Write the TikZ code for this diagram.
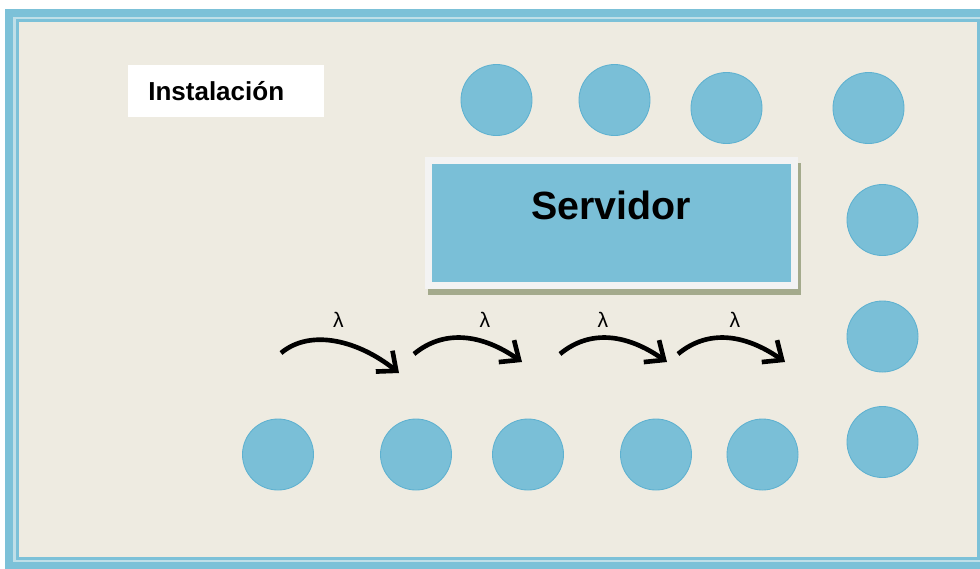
\documentclass[tikz,border=0pt]{standalone}
\usepackage{fontspec}
\setmainfont{Liberation Sans}
\usetikzlibrary{positioning}
\usetikzlibrary{arrows.meta}

\definecolor{framebg}{HTML}{EEEBE1}
\definecolor{frameblue}{HTML}{7CC1D8}
\definecolor{framelight}{HTML}{BFDFE8}
\definecolor{clientblue}{HTML}{7ABFD7}
\definecolor{clientedge}{HTML}{5EB1D0}
\definecolor{boxwhite}{HTML}{F3F3F3}
\definecolor{shadowgray}{HTML}{A4AA8C}

\pgfdeclarelayer{bg}
\pgfsetlayers{bg,main}

\begin{document}
\begin{tikzpicture}[x=0.025cm,y=-0.025cm,
    client/.style={circle,fill=clientblue,draw=clientedge,line width=0.6pt,minimum size=1.775cm,inner sep=0pt},
    flow/.style={line width=3.3pt,-{Straight Barb[length=11pt,width=19pt]}},
    rate/.style={font=\fontsize{15}{17}\selectfont,inner sep=0pt}]
        \useasboundingbox (0,0) rectangle (980,568);

        % marco
        \begin{pgfonlayer}{bg}
            \fill[framebg] (9,13) rectangle (987,566);
        \end{pgfonlayer}
        \draw[framelight,line width=2.4pt] (14.6,18) rectangle (982,561);
        \draw[frameblue,line width=5.7pt] (9,13) rectangle (987,566);
        \draw[frameblue,line width=1.8pt] (17.3,20.7) rectangle (978.7,558.5);

        \node[fill=white,anchor=west,minimum height=1.3cm,text width=3.9cm,inner xsep=0.5cm,align=left,
              font=\bfseries\fontsize{18.5}{22}\selectfont] (instalacion) at (128,91) {Instalación};

        \node[fill=clientblue,draw=boxwhite,line width=5pt,minimum width=9.15cm,minimum height=3.125cm,inner sep=0pt] (servidor) at (611.5,223) {};
        \begin{pgfonlayer}{bg}
            \fill[shadowgray] ([shift={(3,6)}]servidor.south west) rectangle ([shift={(3,6)}]servidor.north east);
        \end{pgfonlayer}
        \node[font=\bfseries\fontsize{28}{32}\selectfont] (servidortxt) at (611,205) {Servidor};

        % clientes
        \foreach \n/\x/\y in {1/496.5/100, 2/614.5/100, 3/726.5/108, 4/868.5/108}
            \node[client] (top\n) at (\x,\y) {};
        \foreach \n/\y in {1/220, 2/336.5, 3/442}
            \node[client] (right\n) at (882.5,\y) {};
        \foreach \n/\x in {1/278, 2/416, 3/528, 4/656, 5/762.5}
            \node[client] (bottom\n) at (\x,454.5) {};

        % llegadas
        \coordinate (arr1s) at (281,353);
        \coordinate (arr1e) at (399,373);
        \draw[flow] (arr1s) .. controls +(30,-25) and +(-40,-32) .. (arr1e);
        \node[rate] (lambda1) at (338.5,320) {λ};
        \foreach \n/\sx/\ex/\lx in {2/414/522/485, 3/560/667/603, 4/678/785/735} {
            \coordinate (arr\n s) at (\sx,354);
            \coordinate (arr\n e) at (\ex,362);
            \draw[flow] (arr\n s) .. controls +(30,-25) and +(-40,-28) .. (arr\n e);
            \node[rate] (lambda\n) at (\lx,320) {λ};
        }
    \end{tikzpicture}
\end{document}
